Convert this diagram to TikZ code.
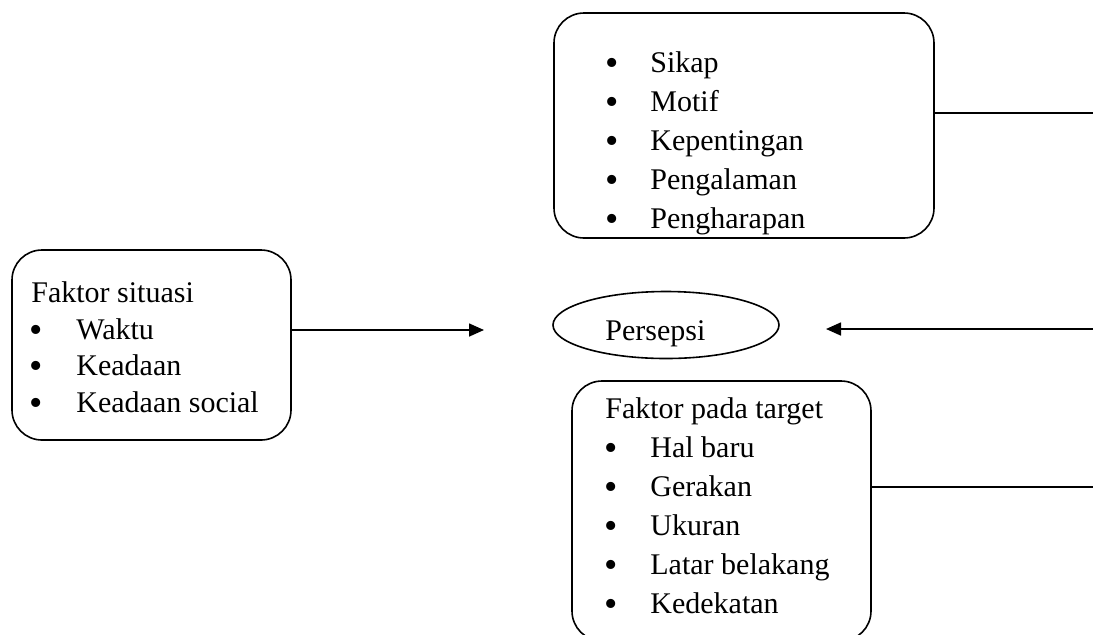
\documentclass[tikz,border=0pt]{standalone}
\usepackage{fontspec}
\setmainfont{Liberation Serif}
\usetikzlibrary{arrows.meta,shapes.geometric}
\tikzset{
  box/.style={draw, line width=0.8pt, rounded corners=15pt, inner sep=0pt},
  txt/.style={anchor=base west, inner sep=0pt},
  bul/.style={anchor=base, inner sep=0pt, font=\fontsize{19}{19}\selectfont},
  conn/.style={line width=0.8pt},
  arr/.style={line width=0.8pt, -{Triangle[length=7.5pt,width=6.5pt]}}
}
\begin{document}
\begin{tikzpicture}[x=0.5pt,y=-0.5pt,font=\fontsize{15}{18}\selectfont]
\useasboundingbox (0,0) rectangle (1093,634);
\clip (0,0) rectangle (1093,634);
% top box
\node[box, minimum width=190pt, minimum height=112.5pt] (top) at (744,125.5) {};
\foreach \t/\y [count=\i] in {Sikap/72,Motif/111,Kepentingan/150,Pengalaman/189,Pengharapan/228}{
  \node[bul] (tb\i) at (612,\y+3) {\textbullet};
  \node[txt] (tt\i) at (650,\y) {\t};
}
% left box
\node[box, minimum width=139.5pt, minimum height=95pt] (left) at (151.5,345) {};
\node[txt] (lh) at (31,302) {Faktor situasi};
\foreach \t/\y [count=\i] in {Waktu/339,Keadaan/375,Keadaan social/412}{
  \node[bul] (lb\i) at (36,\y+3) {\textbullet};
  \node[txt] (lt\i) at (76,\y) {\t};
}
% ellipse
\node[draw, ellipse, line width=0.8pt, minimum width=113pt, minimum height=33.5pt, inner sep=0pt] (pers) at (666,325) {};
\node[txt] (perst) at (605,340) {Persepsi};
% bottom box
\node[box, minimum width=149.5pt, minimum height=130pt] (bot) at (721.5,511) {};
\node[txt] (bh) at (605,418) {Faktor pada target};
\foreach \t/\y [count=\i] in {Hal baru/457,Gerakan/496,Ukuran/535,Latar belakang/574,Kedekatan/613}{
  \node[bul] (bb\i) at (611,\y+3) {\textbullet};
  \node[txt] (bt\i) at (650,\y) {\t};
}
% connectors
\coordinate (la) at (484,330);
\coordinate (rs) at (1093,329);
\coordinate (ra) at (826,329);
\coordinate (tl) at (1093,113);
\coordinate (bl) at (1093,487);
\draw[arr] (left.east |- la) -- (la);
\draw[arr] (rs) -- (ra);
\draw[conn] (top.east |- tl) -- (tl);
\draw[conn] (bot.east |- bl) -- (bl);
\end{tikzpicture}
\end{document}
